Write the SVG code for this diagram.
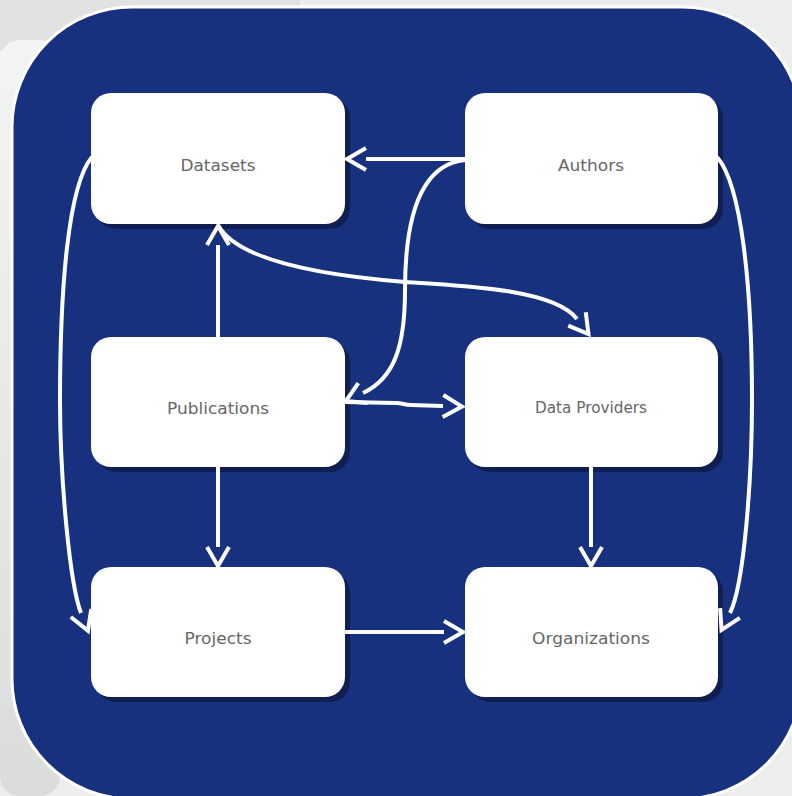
<svg xmlns="http://www.w3.org/2000/svg" width="792" height="796" viewBox="0 0 792 796">
  <defs>
    <linearGradient id="bgL" x1="0" y1="0" x2="0" y2="1">
      <stop offset="0" stop-color="#f3f4f4"/>
      <stop offset="1" stop-color="#dadbdb"/>
    </linearGradient>
    <marker id="arr" markerUnits="userSpaceOnUse" markerWidth="30" markerHeight="30" viewBox="-3 -15 28 30" refX="0" refY="0" orient="auto">
      <path d="M0,-11 L19,0 L0,11" fill="none" stroke="#ffffff" stroke-width="4"/>
    </marker>
  </defs>
  <style>
    .node rect.box { fill: #ffffff; }
    .node rect.shadow { fill: #101e52; }
    .node text { font-family: "DejaVu Sans", "Liberation Sans", sans-serif; font-size: 16.5px; fill: #666666; text-anchor: middle; }
    .edge { fill: none; stroke: #ffffff; stroke-width: 4; marker-end: url(#arr); }
  </style>

  <!-- background -->
  <rect x="0" y="0" width="792" height="796" fill="#eceded"/>
  <rect x="0" y="0" width="300" height="50" fill="#e2e2e2"/>
  <rect x="0" y="40" width="60" height="756" rx="20" fill="url(#bgL)"/>
  <rect x="12" y="7" width="790" height="792" rx="120" ry="120" fill="#17317f" stroke="#ffffff" stroke-width="3"/>

  <!-- nodes -->
  <g id="node-datasets" class="node">
    <rect class="shadow" x="96" y="98" width="254" height="131" rx="20"/>
    <rect class="box" x="91" y="93" width="254" height="131" rx="20"/>
    <text x="218" y="171" textLength="75" lengthAdjust="spacingAndGlyphs">Datasets</text>
  </g>
  <g id="node-authors" class="node">
    <rect class="shadow" x="470" y="98" width="253" height="131" rx="20"/>
    <rect class="box" x="465" y="93" width="253" height="131" rx="20"/>
    <text x="591" y="171" textLength="66" lengthAdjust="spacingAndGlyphs">Authors</text>
  </g>
  <g id="node-publications" class="node">
    <rect class="shadow" x="96" y="342" width="254" height="130" rx="20"/>
    <rect class="box" x="91" y="337" width="254" height="130" rx="20"/>
    <text x="218" y="414" textLength="102" lengthAdjust="spacingAndGlyphs">Publications</text>
  </g>
  <g id="node-dataproviders" class="node">
    <rect class="shadow" x="470" y="342" width="253" height="130" rx="20"/>
    <rect class="box" x="465" y="337" width="253" height="130" rx="20"/>
    <text x="591" y="413" textLength="112" lengthAdjust="spacingAndGlyphs" style="font-size:15px">Data Providers</text>
  </g>
  <g id="node-projects" class="node">
    <rect class="shadow" x="96" y="572" width="254" height="130" rx="20"/>
    <rect class="box" x="91" y="567" width="254" height="130" rx="20"/>
    <text x="218" y="644" textLength="67" lengthAdjust="spacingAndGlyphs">Projects</text>
  </g>
  <g id="node-organizations" class="node">
    <rect class="shadow" x="470" y="572" width="253" height="130" rx="20"/>
    <rect class="box" x="465" y="567" width="253" height="130" rx="20"/>
    <text x="591" y="644" textLength="118" lengthAdjust="spacingAndGlyphs">Organizations</text>
  </g>

  <!-- connectors -->
  <g id="connectors">
    <path class="edge" d="M465,159 L366,159"/>
    <path class="edge" d="M465,160 C415,165 405,230 405,290 C405,345 395,378 363,393"/>
    <path class="edge" d="M345,402 L396,403 C403,403 404,405 411,405 L443,406"/>
    <path class="edge" d="M218,225 C238,262 330,276 405,282 C470,286 555,290 577,319"/>
    <path class="edge" d="M218,337 L218,245"/>
    <path class="edge" d="M218,467 L218,547"/>
    <path class="edge" d="M591,467 L591,547"/>
    <path class="edge" d="M345,632 L444,632"/>
    <path class="edge" d="M92,157 C68,185 60,290 60,400 C60,480 70,585 81,613"/>
    <path class="edge" d="M717,157 C742,185 752,290 752,400 C752,480 744,585 730,613"/>
  </g>
</svg>
